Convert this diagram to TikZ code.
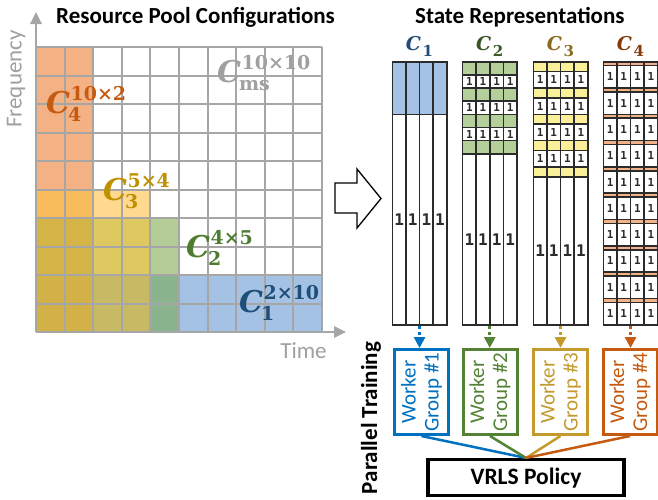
\documentclass[tikz,border=0pt]{standalone}
\usepackage{fontspec}
\setmainfont{Carlito}
\newfontfamily\digitfont{DejaVu Sans Mono}
\newfontfamily\lblfont{DejaVu Serif}
\usetikzlibrary{arrows.meta}

% grid cell colours (single configurations and their overlaps)
\definecolor{cfour}{HTML}{F4B183}
\definecolor{cfourthree}{HTML}{F8BC5C}
\definecolor{cthree}{HTML}{FFD98E}
\definecolor{cfourthreetwo}{HTML}{D4B446}
\definecolor{cthreetwo}{HTML}{DEC860}
\definecolor{ctwo}{HTML}{B4CD96}
\definecolor{call}{HTML}{D2B246}
\definecolor{cthreetwoone}{HTML}{C8B964}
\definecolor{ctwoone}{HTML}{8AB48E}
\definecolor{cone}{HTML}{A4C2E4}
\definecolor{gridgray}{HTML}{A6A6A6}
\definecolor{lblgray}{HTML}{A0A0A0}
% label colours
\definecolor{lone}{HTML}{1F4E79}
\definecolor{ltwo}{HTML}{4E7D32}
\definecolor{lthree}{HTML}{BF9000}
\definecolor{lfour}{HTML}{C55A11}
\definecolor{sone}{HTML}{1F4E79}
\definecolor{stwo}{HTML}{375623}
\definecolor{sthree}{HTML}{8A6A1F}
\definecolor{sfour}{HTML}{843C0C}
% state representation fills
\definecolor{repblue}{HTML}{A4C2E4}
\definecolor{repgreen}{HTML}{B5CF9A}
\definecolor{repyellow}{HTML}{FAF09A}
\definecolor{reporange}{HTML}{F4B183}
\definecolor{repline}{HTML}{2B2B2B}
% worker colours
\definecolor{wblue}{HTML}{0070C0}
\definecolor{wgreen}{HTML}{548235}
\definecolor{wgold}{HTML}{C49A2C}
\definecolor{worange}{HTML}{C55A11}

% state representation geometry
\def\repT{61.7}
\def\repB{324.7}
\def\repU{13.15}
\def\repW{54.5}
\def\repC{13.625}

\newcommand\onesrow[3]{%
  \foreach \j in {0,...,3} \node[#3] at ({#1+(\j+0.5)*\repC},{#2}) {1};}

% configuration label: C with a subscript (#1) and a superscript (#2)
\newcommand\cfglabel[2]{%
  {\lblfont\bfseries\itshape\fontsize{30}{30}\selectfont C}%
  \rlap{\raisebox{12.5pt}{\kern0.5pt\lblfont\bfseries\fontsize{19}{19}\selectfont #2}}%
  \raisebox{-8pt}{\kern-2pt\lblfont\bfseries\fontsize{19}{19}\selectfont #1}}
% state label: C with a subscript
\newcommand\replabel[1]{%
  {\lblfont\bfseries\itshape\fontsize{19}{19}\selectfont C}%
  \raisebox{-6pt}{\kern1.5pt\lblfont\bfseries\fontsize{15}{15}\selectfont #1}}

\tikzset{
  gridline/.style={gridgray, line width=2},
  axisline/.style={gridgray, line width=2.6, -{Triangle[length=12,width=11]}},
  title/.style={font=\bfseries\fontsize{23}{27}\selectfont, anchor=base west, inner sep=0},
  cfg/.style={anchor=base west, inner sep=0},
  replbl/.style={anchor=base, inner sep=0},
  rline/.style={repline, line width=1.6},
  repbox/.style={draw=repline, line width=1.6, minimum width=54.5, minimum height=263, inner sep=0},
  smallone/.style={font=\digitfont\bfseries\fontsize{11}{11}\selectfont, inner sep=0, text=repline},
  bigone/.style={font=\digitfont\bfseries\fontsize{16}{16}\selectfont, inner sep=0, text=repline},
  wbox/.style={draw, line width=3, minimum width=85, minimum height=54, rotate=90,
    align=center, font=\fontsize{21}{23}\selectfont, inner sep=0},
  dotarr/.style={line width=3, dash pattern=on 3 off 3, -{Triangle[length=11,width=11]}},
  joinline/.style={line width=2.5},
}

\begin{document}
\begin{tikzpicture}[x=1pt,y=-1pt]
\useasboundingbox (0,0) rectangle (658,499);

% ---------- resource pool grid ----------
\foreach \c in {0,1} \foreach \r in {0,...,4}
  \fill[cfour] ({36+28.6*\c},{47+28.5*\r}) rectangle ++(28.6,28.5);
\foreach \c in {0,1} \fill[cfourthree] ({36+28.6*\c},{47+28.5*5}) rectangle ++(28.6,28.5);
\foreach \c in {2,3} \fill[cthree] ({36+28.6*\c},{47+28.5*5}) rectangle ++(28.6,28.5);
\foreach \r in {6,7} {
  \foreach \c in {0,1} \fill[cfourthreetwo] ({36+28.6*\c},{47+28.5*\r}) rectangle ++(28.6,28.5);
  \foreach \c in {2,3} \fill[cthreetwo] ({36+28.6*\c},{47+28.5*\r}) rectangle ++(28.6,28.5);
  \fill[ctwo] ({36+28.6*4},{47+28.5*\r}) rectangle ++(28.6,28.5);
}
\foreach \r in {8,9} {
  \foreach \c in {0,1} \fill[call] ({36+28.6*\c},{47+28.5*\r}) rectangle ++(28.6,28.5);
  \foreach \c in {2,3} \fill[cthreetwoone] ({36+28.6*\c},{47+28.5*\r}) rectangle ++(28.6,28.5);
  \fill[ctwoone] ({36+28.6*4},{47+28.5*\r}) rectangle ++(28.6,28.5);
  \foreach \c in {5,...,9} \fill[cone] ({36+28.6*\c},{47+28.5*\r}) rectangle ++(28.6,28.5);
}
\foreach \i in {1,...,10} \draw[gridline] ({36+28.6*\i},47) -- ({36+28.6*\i},332);
\foreach \i in {0,...,9} \draw[gridline] (36,{47+28.5*\i}) -- (322,{47+28.5*\i});
\draw[axisline] (36,332) -- (36,12);
\draw[axisline] (36,332) -- (346,332);

\node[rotate=90, text=lblgray, font=\fontsize{23}{23}\selectfont] (freq) at (16,79) {Frequency};
\node[text=lblgray, font=\fontsize{23}{23}\selectfont, anchor=base] (time) at (303.5,358) {Time};
\node[title] (ttl) at (56,23) {Resource Pool Configurations};

\node[cfg, text=lblgray] (lms) at (217,82) {\cfglabel{ms}{10×10}};
\node[cfg, text=lfour] (l4) at (46,113) {\cfglabel{4}{10×2}};
\node[cfg, text=lthree] (l3) at (103,200) {\cfglabel{3}{5×4}};
\node[cfg, text=ltwo] (l2) at (186,257) {\cfglabel{2}{4×5}};
\node[cfg, text=lone] (l1) at (239,312) {\cfglabel{1}{2×10}};

% ---------- hollow arrow ----------
\draw[line width=1.3, fill=white, line join=miter]
  (335,183) -- (357,183) -- (357,169) -- (381,198.5) -- (357,228) -- (357,213) -- (335,213) -- cycle;

% ---------- state representations ----------
\node[title] (ttr) at (415,23) {State Representations};

% C1: blue block of four rows
\fill[repblue] (392.3,\repT) rectangle ++(\repW,{4*\repU});
\draw[rline] (392.3,{\repT+4*\repU}) -- ++(\repW,0);
\onesrow{392.3}{(\repT+4*\repU+\repB)/2}{bigone}

% C2: alternating green rows and rows of ones
\foreach \k in {0,2,4,6} \fill[repgreen] (462.5,{\repT+\k*\repU}) rectangle ++(\repW,\repU);
\foreach \k in {1,...,7} \draw[rline] (462.5,{\repT+\k*\repU}) -- ++(\repW,0);
\foreach \k in {1,3,5} {\onesrow{462.5}{\repT+(\k+0.5)*\repU}{smallone}}
\onesrow{462.5}{(\repT+7*\repU+\repB)/2}{bigone}

% C3: thin yellow rows between rows of ones
\foreach \k in {0,...,4} {
  \fill[repyellow] (533.3,{\repT+2*\k*\repU}) rectangle ++(\repW,{0.75*\repU});
  \draw[rline] (533.3,{\repT+(2*\k+0.75)*\repU}) -- ++(\repW,0);
}
\foreach \k in {1,...,4} \draw[rline] (533.3,{\repT+2*\k*\repU}) -- ++(\repW,0);
\foreach \k in {0,...,3} {\onesrow{533.3}{\repT+(2*\k+1.375)*\repU}{smallone}}
\onesrow{533.3}{(\repT+8.75*\repU+\repB)/2}{bigone}

% C4: orange stripes between rows of ones
\foreach \k in {0,...,9} {
  \fill[reporange] (603.3,{\repT+2*\k*\repU}) rectangle ++(\repW,{0.3*\repU});
  \draw[rline] (603.3,{\repT+(2*\k+0.3)*\repU}) -- ++(\repW,0);
  \onesrow{603.3}{\repT+(2*\k+1.15)*\repU}{smallone}
}
\foreach \k in {1,...,9} \draw[rline] (603.3,{\repT+2*\k*\repU}) -- ++(\repW,0);

% column dividers
\foreach \x in {392.3,462.5,533.3,603.3} \foreach \k in {1,2,3}
  \draw[rline] ({\x+\k*\repC},\repT) -- ({\x+\k*\repC},\repB);

% outlines
\node[repbox] (s1) at ({392.3+\repW/2},{(\repT+\repB)/2}) {};
\node[repbox] (s2) at ({462.5+\repW/2},{(\repT+\repB)/2}) {};
\node[repbox] (s3) at ({533.3+\repW/2},{(\repT+\repB)/2}) {};
\node[repbox] (s4) at ({603.3+\repW/2},{(\repT+\repB)/2}) {};

\node[replbl, text=sone] (c1) at (419.5,50) {\replabel{1}};
\node[replbl, text=stwo] (c2) at (489.7,50) {\replabel{2}};
\node[replbl, text=sthree] (c3) at (560.5,50) {\replabel{3}};
\node[replbl, text=sfour] (c4) at (630.5,50) {\replabel{4}};

% ---------- parallel training ----------
\node[rotate=90, font=\bfseries\fontsize{23}{23}\selectfont] (pt) at (371,418) {Parallel Training};

\node[wbox, draw=wblue, text=wblue] (w1) at (421.5,392) {Worker\\Group \#1};
\node[wbox, draw=wgreen, text=wgreen] (w2) at (490,392) {Worker\\Group \#2};
\node[wbox, draw=wgold, text=wgold] (w3) at (560.5,392) {Worker\\Group \#3};
\node[wbox, draw=worange, text=worange] (w4) at (630,392) {Worker\\Group \#4};

\draw[dotarr, wblue] (s1.south) -- (s1.south |- w1.east);
\draw[dotarr, wgreen] (s2.south) -- (s2.south |- w2.east);
\draw[dotarr, wgold] (s3.south) -- (s3.south |- w3.east);
\draw[dotarr, worange] (s4.south) -- (s4.south |- w4.east);

\node[draw, line width=3.5, minimum width=196, minimum height=36, inner sep=0,
  font=\bfseries\fontsize{23.5}{23.5}\selectfont] (pol) at (526,477.7) {VRLS Policy};

\draw[joinline, wblue] (w1.west) -- (pol.north);
\draw[joinline, wgreen] (w2.west) -- (pol.north);
\draw[joinline, wgold] (w3.west) -- (pol.north);
\draw[joinline, worange] (w4.west) -- (pol.north);
\end{tikzpicture}
\end{document}
